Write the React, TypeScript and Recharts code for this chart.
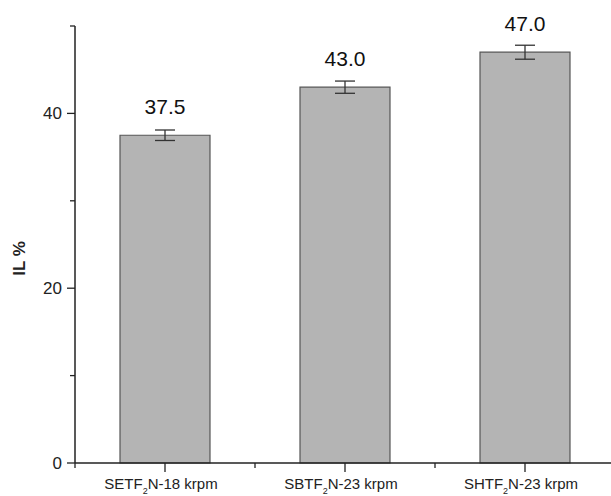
import React from 'react';
import { BarChart, Bar, XAxis, YAxis, ErrorBar, LabelList } from 'recharts';

const categories = ['SETF2N-18 krpm', 'SBTF2N-23 krpm', 'SHTF2N-23 krpm'];
const ilValues = [37.5, 43.0, 47.0];
const ilErrors = [0.6, 0.7, 0.8];
const yTicks = [0, 10, 20, 30, 40, 50];
const yLabeled = [0, 20, 40];

const data = categories.map((name, i) => ({ name, il: ilValues[i], err: ilErrors[i] }));

const FONT = '"Liberation Sans", Arial, sans-serif';
const INK = '#222';

const YTick = ({ x, y, payload }: any) => {
  const major = yLabeled.includes(payload.value);
  return (
    <g>
      <line x1={x - (major ? 8 : 5)} x2={x} y1={y} y2={y} stroke={INK} strokeWidth={1.3} />
      {major && (
        <text x={x - 13} y={y} dy="0.35em" textAnchor="end" fontSize={17} fill={INK} fontFamily={FONT}>
          {payload.value}
        </text>
      )}
    </g>
  );
};

const XTick = ({ x, y, payload, index }: any) => {
  const half = payload.offset || 0;
  const m = String(payload.value).match(/^(.*F)2(N.*)$/);
  return (
    <g>
      <line x1={x} x2={x} y1={y} y2={y + 9} stroke={INK} strokeWidth={1.3} />
      {half > 0 && <line x1={x - half} x2={x - half} y1={y} y2={y + 5} stroke={INK} strokeWidth={1.3} />}
      {half > 0 && index === categories.length - 1 && (
        <line x1={x + half} x2={x + half} y1={y} y2={y + 5} stroke={INK} strokeWidth={1.3} />
      )}
      <text x={x - 4} y={y + 26} textAnchor="middle" fontSize={15} fill={INK} fontFamily={FONT}>
        {m ? (
          <>
            <tspan>{m[1]}</tspan>
            <tspan fontSize={9} dy={5}>2</tspan>
            <tspan dy={-5}>{m[2]}</tspan>
          </>
        ) : (
          payload.value
        )}
      </text>
    </g>
  );
};

const YLabel = ({ viewBox }: any) => {
  const cx = viewBox.x + 10;
  const cy = viewBox.y + viewBox.height / 2 + 14;
  return (
    <text
      x={cx}
      y={cy}
      transform={`rotate(-90 ${cx} ${cy})`}
      textAnchor="middle"
      fontSize={17}
      fontWeight="bold"
      fill={INK}
      fontFamily={FONT}
    >
      IL %
    </text>
  );
};

export default function App() {
  return (
    <div style={{ position: 'absolute', left: 0, top: 0, width: 611, height: 496, overflow: 'hidden', background: '#fff' }}>
      <BarChart
        width={625}
        height={496}
        data={data}
        margin={{ top: 26, right: 10, left: 15, bottom: 0 }}
        barCategoryGap="25%"
      >
        <XAxis
          dataKey="name"
          height={33}
          interval={0}
          tickSize={0}
          tickMargin={0}
          tickLine={false}
          axisLine={{ stroke: INK, strokeWidth: 1.5 }}
          tick={<XTick />}
        />
        <YAxis
          domain={[0, 50]}
          ticks={yTicks}
          width={60}
          tickSize={0}
          tickMargin={0}
          tickLine={false}
          axisLine={{ stroke: INK, strokeWidth: 1.5 }}
          tick={<YTick />}
          label={<YLabel />}
        />
        <Bar dataKey="il" fill="#b4b4b4" stroke="#555" strokeWidth={1.2} isAnimationActive={false}>
          <ErrorBar dataKey="err" width={10} stroke="#333" strokeWidth={1.3} direction="y" />
          <LabelList
            dataKey="il"
            position="top"
            offset={21}
            fontSize={21}
            fill="#111"
            fontFamily={FONT}
            formatter={(v: any) => Number(v).toFixed(1)}
          />
        </Bar>
      </BarChart>
    </div>
  );
}
